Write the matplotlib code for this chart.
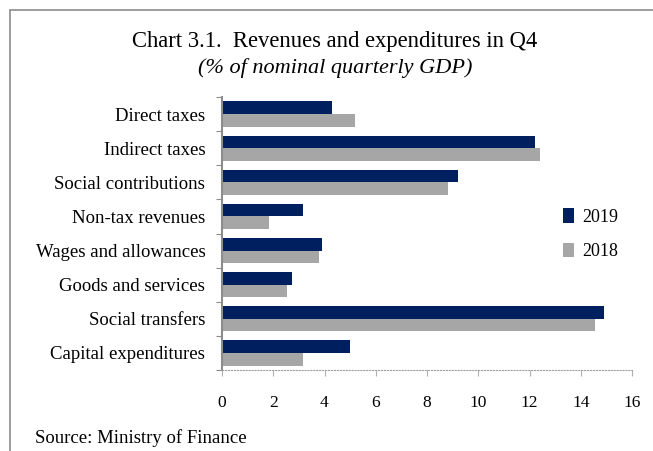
import matplotlib.pyplot as plt
from matplotlib.patches import Rectangle
import numpy as np

categories = ["Direct taxes", "Indirect taxes", "Social contributions", "Non-tax revenues",
              "Wages and allowances", "Goods and services", "Social transfers",
              "Capital expenditures"]
v2019 = [4.3, 12.2, 9.2, 3.15, 3.9, 2.75, 14.9, 5.0]
v2018 = [5.2, 12.4, 8.8, 1.85, 3.8, 2.55, 14.55, 3.15]
xticks = [0, 2, 4, 6, 8, 10, 12, 14, 16]

plt.rcParams['font.family'] = ['Liberation Serif', 'DejaVu Serif']

fig = plt.figure(figsize=(6.53, 4.51), dpi=100)
fig.patches.append(Rectangle((10/653, -0.1), 1.2, 1 - 10/451 + 0.1, transform=fig.transFigure,
                             fill=False, edgecolor='#8c8c8c', linewidth=1.2))

ax = fig.add_axes([222/653, (451-370)/451, 410/653, 273/451])
y = np.arange(len(categories))
h = 0.37
ax.barh(y - h/2, v2019, height=h, color='#001f5f', label='2019')
ax.barh(y + h/2, v2018, height=h, color='#a6a6a6', label='2018')
ax.set_ylim(len(categories) - 0.5, -0.5)
ax.set_xlim(0, 16)
ax.set_xticks(xticks)
ax.set_xticklabels([str(t) for t in xticks], fontsize=12.5)
ax.set_yticks(np.arange(len(categories) + 1) - 0.5, minor=False)
ax.set_yticklabels([''] * (len(categories) + 1))
ax.set_yticks(y, minor=True)
ax.set_yticklabels(categories, minor=True, fontsize=13.5)
ax.tick_params(axis='y', which='major', length=4, color='#8c8c8c', direction='out')
ax.tick_params(axis='y', which='minor', length=0, pad=12)
ax.tick_params(axis='x', length=4, color='#b0b0b0', pad=14)
for s in ['top', 'right']:
    ax.spines[s].set_visible(False)
ax.spines['left'].set_color('#8c8c8c')
ax.spines['left'].set_linewidth(1.5)
ax.spines['bottom'].set_color('#a0a0a0')
ax.spines['bottom'].set_linestyle(':')

leg = ax.legend(loc='upper left', bbox_to_anchor=(547/653, 1 - 192/451), bbox_transform=fig.transFigure,
                frameon=False, fontsize=13, handlelength=0.6, handleheight=0.85,
                labelspacing=0.95, handletextpad=0.45)

fig.text(335/653, 1 - 42/451, "Chart 3.1.  Revenues and expenditures in Q4", ha='center', va='center', fontsize=16.3)
fig.text(335/653, 1 - 68/451, "(% of nominal quarterly GDP)", ha='center', va='center', fontsize=16, style='italic')
fig.text(35/653, 1 - 438/451, "Source: Ministry of Finance", ha='left', va='center', fontsize=13.5)

fig.savefig('out.png', dpi=100)
